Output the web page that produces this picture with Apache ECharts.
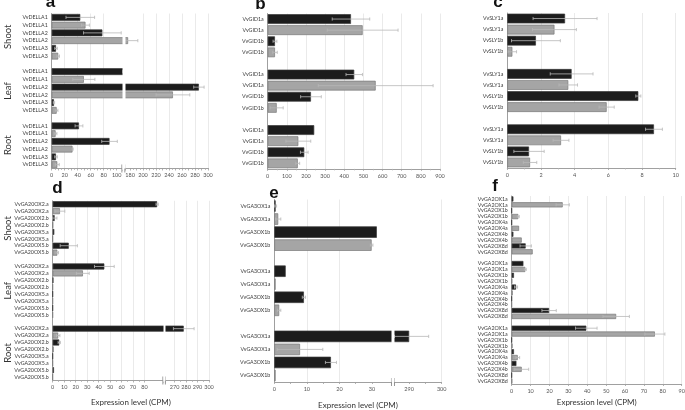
<!DOCTYPE html>
<html><head><meta charset="utf-8">
<script src="https://cdn.jsdelivr.net/npm/echarts@6/dist/echarts.min.js"></script>
<style>html,body{margin:0;padding:0;background:#fff}#c{width:685px;height:410px}</style>
</head><body><div id="c"></div>
<script>
const tissues = ['Shoot', 'Leaf', 'Root'];

// Panel a
const aGenes = ['VvDELLA1','VvDELLA1','VvDELLA2','VvDELLA2','VvDELLA3','VvDELLA3'];
const aValues = [[44,52,78,177,6.6,10],[140,49.5,286,246,3.5,7.6],[42,6,89,32,6.6,8.6]];
const aErrors = [[22,6,29,15,2,2],[10,17,8,26,1,2],[6,2,12,1,2,3]];
const aTicks = [0,20,40,60,80,100,180,200,220,240,260,280,300];

// Panel b
const bGenes = ['VvGID1a','VvGID1a','VvGID1b','VvGID1b'];
const bValues = [[435,496,38,38],[452,564,226,47],[243,160,191,157]];
const bErrors = [[98,185,10,12],[43,300,54,34],[0,65,20,10]];
const bTicks = [0,100,200,300,400,500,600,700,800,900];

// Panel c
const cGenes = ['VvSLY1a','VvSLY1a','VvSLY1b','VvSLY1b'];
const cValues = [[3.43,2.8,1.7,0.3],[3.82,3.62,7.78,5.9],[8.71,3.19,1.29,1.35]];
const cErrors = [[1.9,1.3,1.45,0.25],[1.27,0.55,0.15,0.45],[0.5,0.47,0.9,0.4]];
const cTicks = [0,2,4,6,8,10];

// Panel d
const dGenes = ['VvGA20OX2.a','VvGA20OX2.a','VvGA20OX2.b','VvGA20OX2.b','VvGA20OX5.a','VvGA20OX5.a','VvGA20OX5.b','VvGA20OX5.b'];
const dValues = [[91,6.3,1.7,0.2,1.4,0,14,4],[45,26.3,0.5,0,0,0,0,0],[278,4.8,5.7,0.8,0,0,1.1,0]];
const dErrors = [[1,4.3,2,0,0,0,7.5,1],[8.6,5.5,0,0,0,0,0,0],[9,1.5,1,0,0,0,0,0]];
const dTicks = [0,10,20,30,40,50,60,70,80,270,280,290,300];

// Panel e
const eGenes = ['VvGA3OX1a','VvGA3OX1a','VvGA3OX1b','VvGA3OX1b'];
const eValues = [[0.4,1.2,31.5,29.9],[3.5,0.4,9.1,1.5],[290,7.9,17.4,0.4]];
const eErrors = [[0.3,0.8,0,0.4],[0,0,0.5,0.5],[6,7,1.7,0]];
const eTicks = [0,10,20,30,290,300];

// Panel f
const fGenes = ['VvGA2OX1a','VvGA2OX1a','VvGA2OX1b','VvGA2OX1b','VvGA2OX4a','VvGA2OX4a','VvGA2OX4b','VvGA2OX4b','VvGA2OX8d','VvGA2OX8d'];
const fValues = [[0.9,27,0,3.5,0,3.9,0.9,5.3,7.4,11.1],[6.2,7.2,1.2,0.2,2.3,0.5,0,0,19.8,55.3],[39.5,75.8,0,0.4,1.2,3.2,2.5,5.3,0,0.2]];
const fErrors = [[0,3.5,0,0.5,0,0,0,0,3,0],[0,0.5,0,0,0.8,0,0,0,3.8,7],[5.7,5.3,0,0,0,1,0,3.7,0,0]];
const fTicks = [0,10,20,30,40,50,60,70,80,90];

const axisTitle = 'Expression level (CPM)';
const FONT = 'Lato';

const panels = [
  {letter:'a', genes:aGenes, values:aValues, errors:aErrors, ticks:aTicks, max:300, interval:10, gridInterval:20, minor:2,
   brk:{start:108,end:172,gap:'1.9%'}, box:{left:51.7, top:13.5, width:156.3, height:155}, letterPos:[50.5,11], title:false},
  {letter:'b', genes:bGenes, values:bValues, errors:bErrors, ticks:bTicks, max:900, interval:100, minor:2,
   box:{left:267.7, top:13.5, width:172.3, height:155.4}, letterPos:[260.5,13], title:false},
  {letter:'c', genes:cGenes, values:cValues, errors:cErrors, ticks:cTicks, max:10, interval:2, minor:2,
   box:{left:507.3, top:13, width:168.4, height:155}, letterPos:[498,11], title:false},
  {letter:'d', genes:dGenes, values:dValues, errors:dErrors, ticks:dTicks, max:300, interval:10, minor:2,
   brk:{start:96,end:262,gap:'1.6%'}, box:{left:52.7, top:200.8, width:156.3, height:179.7}, letterPos:[57.5,197], title:true, nameGap:18},
  {letter:'e', genes:eGenes, values:eValues, errors:eErrors, ticks:eTicks, max:300, interval:5, gridInterval:10, minor:1,
   brk:{start:36,end:285.5,gap:'1.8%'}, box:{left:274.3, top:199.5, width:167.4, height:182.5}, letterPos:[274,202], title:true, nameGap:19},
  {letter:'f', genes:fGenes, values:fValues, errors:fErrors, ticks:fTicks, max:90, interval:10, minor:1,
   box:{left:511.7, top:196, width:170, height:188}, letterPos:[495,195], title:true, nameGap:14}
];

const grid = [], xAxis = [], yAxis = [], series = [], graphic = [];
const GRIDLINE = {show:true, lineStyle:{color:'#e4e4e4', width:0.8}};

function errItem(params, api) {
  const v = api.value(0), e = api.value(1), c = api.value(2);
  if (!e) return null;
  const p1 = api.coord([Math.max(0, v - e), c]);
  const p2 = api.coord([v + e, c]);
  const h = 1.6;
  const st = {stroke:'#b8b8b8', lineWidth:0.8};
  return {type:'group', children:[
    {type:'line', shape:{x1:p1[0], y1:p1[1], x2:p2[0], y2:p2[1]}, style:st},
    {type:'line', shape:{x1:p1[0], y1:p1[1]-h, x2:p1[0], y2:p1[1]+h}, style:st},
    {type:'line', shape:{x1:p2[0], y1:p2[1]-h, x2:p2[0], y2:p2[1]+h}, style:st}
  ]};
}

// axis-break marks "| |" drawn at the break bounds on the value axis
function breakMark(params, api) {
  const cs = params.coordSys;
  const yb = cs.y + cs.height;
  const x1 = api.coord([api.value(0), 0])[0];
  const x2 = api.coord([api.value(1), 0])[0];
  const st = {stroke:'#8a8a8a', lineWidth:0.9};
  return {type:'group', children:[
    {type:'rect', shape:{x:x1, y:yb-1.5, width:x2-x1, height:3}, style:{fill:'#fff'}},
    {type:'line', shape:{x1:x1, y1:yb-4, x2:x1, y2:yb+4}, style:st},
    {type:'line', shape:{x1:x2, y1:yb-4, x2:x2, y2:yb+4}, style:st}
  ]};
}

panels.forEach((p, i) => {
  const n = p.genes.length;
  const cats = [], barData = [], errData = [];
  tissues.forEach((t, g) => {
    p.genes.forEach((gname, k) => {
      const idx = cats.length;
      cats.push(gname);
      const dark = k % 2 === 0;
      barData.push({value: p.values[g][k], itemStyle:{
        color: dark ? '#1c1c1c' : '#a5a5a5',
        borderColor: dark ? '#3a3a3a' : '#7a7a7a', borderWidth: 0.7}});
      errData.push([p.values[g][k], p.errors[g][k], idx]);
    });
    if (g < tissues.length - 1) { cats.push(''); barData.push('-'); }
  });
  const total = cats.length;
  grid.push(Object.assign({containLabel:false, outerBoundsMode:'none'}, p.box));
  const ticks = p.ticks;
  const xIdx = xAxis.length;
  const xa = {
    gridIndex:i, type:'value', min:0, max:p.max, interval:p.interval, position:'bottom',
    axisLine:{show:true, lineStyle:{color:'#a0a0a0', width:1}},
    axisTick:{show:true, length:2, lineStyle:{color:'#a0a0a0', width:0.8}},
    minorTick:{show:p.minor > 1, splitNumber:p.minor, length:1.5, lineStyle:{color:'#b0b0b0', width:0.8}},
    splitLine: p.gridInterval ? {show:false} : GRIDLINE,
    axisLabel:{fontFamily:FONT, fontSize:5.5, color:'#555', margin:4, hideOverlap:false,
      formatter: v => ticks.indexOf(Math.round(v*1000)/1000) >= 0 ? String(Math.round(v*1000)/1000) : ''},
    name: p.title ? axisTitle : '', nameLocation:'middle', nameGap: p.nameGap || 20,
    nameTextStyle:{fontFamily:FONT, fontSize:8, color:'#333'}
  };
  if (p.brk) {
    xa.breaks = [p.brk];
    xa.breakArea = {show:true, itemStyle:{color:'#ffffff', borderColor:'#ffffff', borderWidth:0, opacity:1},
      zigzagAmplitude:0, expandOnClick:false};
  }
  xAxis.push(xa);
  if (p.gridInterval) {
    xAxis.push({gridIndex:i, type:'value', min:0, max:p.max, interval:p.gridInterval, position:'top',
      breaks:[p.brk], breakArea:{show:false},
      axisLine:{show:false}, axisTick:{show:false}, axisLabel:{show:false}, splitLine:GRIDLINE});
  }
  yAxis.push({gridIndex:i, type:'category', data:cats, inverse:true,
    axisTick:{show:false}, axisLine:{show:true, lineStyle:{color:'#8c8c8c', width:0.8}},
    axisLabel:{interval:0, fontFamily:FONT, fontSize:5.3, color:'#3a3a3a', margin:4},
    splitLine:{show:false}});
  series.push({type:'bar', xAxisIndex:xIdx, yAxisIndex:i, data:barData, barCategoryGap:'12%', z:2, animation:false});
  series.push({type:'custom', xAxisIndex:xIdx, yAxisIndex:i, data:errData, renderItem:errItem,
    encode:{x:0, y:2}, z:4, animation:false, silent:true});
  if (p.brk) {
    series.push({type:'custom', xAxisIndex:xIdx, yAxisIndex:i, data:[[p.brk.start, p.brk.end]],
      renderItem:breakMark, encode:{x:[0,1]}, z:6, clip:false, animation:false, silent:true});
  }
  graphic.push({type:'text', x:p.letterPos[0], y:p.letterPos[1],
    style:{text:p.letter, font:'bold 17px "Liberation Sans"', fill:'#111', textAlign:'center', textVerticalAlign:'bottom'}});
  if (i === 0 || i === 3) {
    const rowH = p.box.height / total;
    tissues.forEach((t, g) => {
      const cy = p.box.top + rowH * (g * (n + 1) + n / 2);
      graphic.push({type:'text', x:8, y:cy, rotation:Math.PI/2,
        style:{text:t, font:'9.5px ' + FONT, fill:'#333', textAlign:'center', textVerticalAlign:'middle'}});
    });
  }
});

const chart = echarts.init(document.getElementById('c'), null, {renderer:'canvas'});
chart.setOption({animation:false, backgroundColor:'#fff', grid, xAxis, yAxis, series, graphic});
</script></body></html>
